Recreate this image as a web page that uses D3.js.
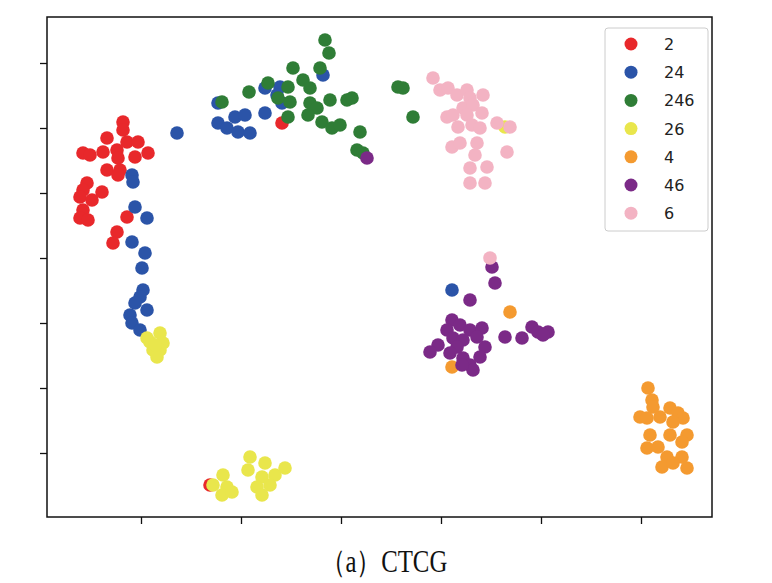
<!DOCTYPE html>
<html><head><meta charset="utf-8">
<script src="https://cdn.jsdelivr.net/npm/d3@7"></script>
<style>body{margin:0;background:#fff}</style></head>
<body><svg id="c" width="772" height="583"></svg>
<script>
var labels = ["2","24","246","26","4","46","6"];
var colors = ["#e8282b","#2b54a8","#2f7d36","#e9e64c","#f49a30","#7b2a87","#f3b3c3"];
var xTicks = [0,100,200,300,400,500];
var yTicks = [0,65,130,195,260,325,390];

var s2 = [[-18,331],[-18,323],[-34,315],[-14,311],[-3,311],[-58,300],[-51,298],[-38,301],[-24,303],[-23,295],[-6,296],[7,300],[-34,283],[-21,283],[-23,278],[-54,270],[-58,263],[-39,261],[-61,256],[-49,253],[-58,243],[-61,235],[-53,233],[-14,236],[-24,221],[-28,210],[141,330],[69,-32]];
var s24 = [[36,320],[-9,278],[-8,271],[-6,246],[6,235],[-9,211],[4,200],[1,185],[2,163],[-1,156],[-6,150],[6,143],[-11,138],[-9,130],[-1,123],[77,350],[77,330],[86,325],[97,321],[109,320],[94,336],[104,338],[124,340],[124,365],[139,366],[141,350],[136,358],[182,378],[311,163]];
var s246 = [[184,413],[188,400],[152,385],[179,385],[162,373],[169,365],[127,370],[108,361],[147,366],[137,355],[149,351],[81,351],[169,350],[176,345],[189,353],[206,353],[211,355],[167,338],[147,336],[181,331],[191,325],[199,328],[219,321],[216,303],[222,300],[257,366],[262,365],[272,336]];
var s26 = [[6,115],[19,120],[22,110],[12,103],[19,103],[16,96],[9,111],[14,108],[72,-32],[82,-22],[86,-34],[81,-42],[109,-4],[107,-17],[124,-10],[121,-24],[134,-22],[144,-15],[116,-34],[121,-42],[129,-32],[91,-39],[364,326]];
var s4 = [[369,141],[311,86],[507,65],[511,53],[512,46],[499,36],[506,35],[519,36],[529,45],[537,40],[542,35],[532,31],[509,18],[529,18],[546,18],[541,11],[506,5],[517,6],[526,-4],[541,-4],[521,-14],[532,-10],[546,-15]];
var s46 = [[226,295],[351,186],[354,170],[329,153],[311,133],[319,128],[306,123],[329,123],[341,125],[312,115],[322,113],[336,116],[297,108],[289,101],[316,106],[344,106],[309,100],[322,95],[339,96],[329,88],[332,83],[321,88],[364,116],[381,115],[391,126],[397,121],[407,121],[402,118]];
var s6 = [[349,195],[292,375],[299,363],[307,365],[316,358],[326,363],[329,355],[342,358],[322,345],[332,348],[341,340],[306,336],[312,338],[326,338],[317,326],[331,328],[339,325],[356,330],[369,326],[311,306],[319,310],[336,310],[334,298],[366,301],[329,285],[346,286],[329,270],[344,270]];
var series = [s2,s24,s246,s26,s4,s46,s6];

var svg = d3.select("#c");
var L = 47, R = 712, T = 17, B = 517;
var x = d3.scaleLinear().domain([-94,571]).range([L,R]);
var y = d3.scaleLinear().domain([-64,436]).range([B,T]);

series.forEach(function(pts, i){
  svg.append("g").selectAll("circle").data(pts).enter().append("circle")
    .attr("cx", function(d){ return x(d[0]); })
    .attr("cy", function(d){ return y(d[1]); })
    .attr("r", 6.8).attr("fill", colors[i]);
});

svg.append("g").attr("transform","translate(0,"+B+")")
  .call(d3.axisBottom(x).tickValues(xTicks).tickSize(7).tickFormat(""))
  .call(function(g){ g.select(".domain").remove(); g.selectAll("line").attr("stroke","#111").attr("stroke-width",1.3); });
svg.append("g").attr("transform","translate("+L+",0)")
  .call(d3.axisLeft(y).tickValues(yTicks).tickSize(7).tickFormat(""))
  .call(function(g){ g.select(".domain").remove(); g.selectAll("line").attr("stroke","#111").attr("stroke-width",1.3); });
svg.append("rect").attr("x",L).attr("y",T).attr("width",R-L).attr("height",B-T)
  .attr("fill","none").attr("stroke","#111").attr("stroke-width",1.5);

// legend
var lg = svg.append("g");
lg.append("rect").attr("x",605).attr("y",28).attr("width",103).attr("height",203)
  .attr("rx",3).attr("fill","#fff").attr("stroke","#ccc");
labels.forEach(function(t, i){
  var yy = 44 + i*28.2;
  lg.append("circle").attr("cx",631).attr("cy",yy).attr("r",6.5).attr("fill",colors[i]);
  lg.append("text").attr("x",664).attr("y",yy+6).text(t)
    .attr("font-family","DejaVu Sans").attr("font-size",16).attr("fill","#222");
});

svg.append("text").attr("x",384).attr("y",572).attr("text-anchor","middle")
  .attr("font-family","Liberation Serif").attr("font-size",31).attr("fill","#111")
  .attr("transform","translate(384,0) scale(0.8,1) translate(-384,0)")
  .text("（a）CTCG");
</script></body></html>
